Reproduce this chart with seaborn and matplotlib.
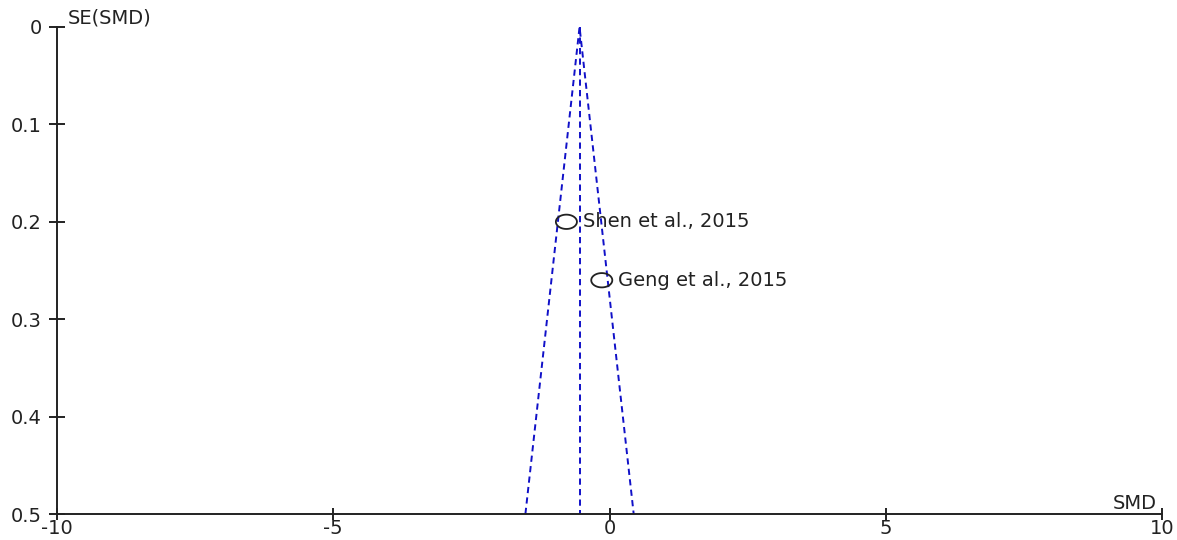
import matplotlib
matplotlib.use("Agg")
import matplotlib.pyplot as plt
from matplotlib.path import Path
import seaborn as sns
import pandas as pd
import numpy as np

# Study estimates (standardised mean difference and its standard error)
studies = ["Shen et al., 2015", "Geng et al., 2015"]
smd = [-0.78, -0.14]
se_smd = [0.20, 0.26]

# Axis settings
x_ticks = [-10, -5, 0, 5, 10]
y_ticks = [0, 0.1, 0.2, 0.3, 0.4, 0.5]
y_tick_labels = ["0", "0.1", "0.2", "0.3", "0.4", "0.5"]
se_max = 0.5

df = pd.DataFrame({"study": studies, "smd": smd, "se": se_smd})

# Fixed-effect (inverse variance) pooled estimate
w = 1.0 / np.square(df["se"].to_numpy())
pooled = float(np.sum(w * df["smd"].to_numpy()) / np.sum(w))

sns.set_theme(style="white")
plt.rcParams["font.family"] = ["DejaVu Sans"]

FS = 14
INK = "#222222"

fig = plt.figure(figsize=(11.77, 5.40), dpi=100)
ax = fig.add_axes([57 / 1177, 1 - 514 / 540, (1162 - 57) / 1177, (514 - 27) / 540])

funnel_color = "#1010C8"
dash = (0, (3.2, 2.2))
# Pseudo 95% confidence limits and pooled estimate
ax.plot([pooled - 1.96 * se_max, pooled, pooled + 1.96 * se_max], [se_max, 0, se_max],
        linestyle=dash, color=funnel_color, lw=1.4)
ax.plot([pooled, pooled], [0, se_max], linestyle=dash, color=funnel_color, lw=1.4)

# Slightly flattened open circle marker
t = np.linspace(0, 2 * np.pi, 60)
oval = Path(np.column_stack([np.cos(t), 0.68 * np.sin(t)]), closed=True)

sns.scatterplot(data=df, x="smd", y="se", ax=ax, s=230, marker=oval,
                facecolor="none", edgecolor=INK, linewidth=1.3, zorder=5)

for _, r in df.iterrows():
    ax.annotate(r["study"], (r["smd"], r["se"]), xytext=(12, 0), textcoords="offset points",
                ha="left", va="center", fontsize=FS, color=INK)

ax.set_xlim(-10, 10)
ax.set_ylim(se_max, 0)
ax.set_xticks(x_ticks)
ax.set_xticklabels([str(v) for v in x_ticks])
ax.set_yticks(y_ticks)
ax.set_yticklabels(y_tick_labels)

for side in ("top", "right"):
    ax.spines[side].set_visible(False)
for side in ("left", "bottom"):
    ax.spines[side].set_color(INK)
    ax.spines[side].set_linewidth(1.4)

ax.tick_params(axis="both", which="major", bottom=True, left=True, direction="inout",
               width=1.4, color=INK, labelsize=FS, labelcolor=INK)
ax.tick_params(axis="x", length=8.5, pad=-0.5)
ax.tick_params(axis="y", length=12, pad=5.0)
ax.set_xlabel("")
ax.set_ylabel("")

ax.text(0.01, 1.0, "SE(SMD)", transform=ax.transAxes, ha="left", va="bottom",
        fontsize=FS, color=INK)
ax.text(0.9955, 0.003, "SMD", transform=ax.transAxes, ha="right", va="bottom",
        fontsize=FS, color=INK)

fig.savefig("out.png", dpi=100, facecolor="white")
